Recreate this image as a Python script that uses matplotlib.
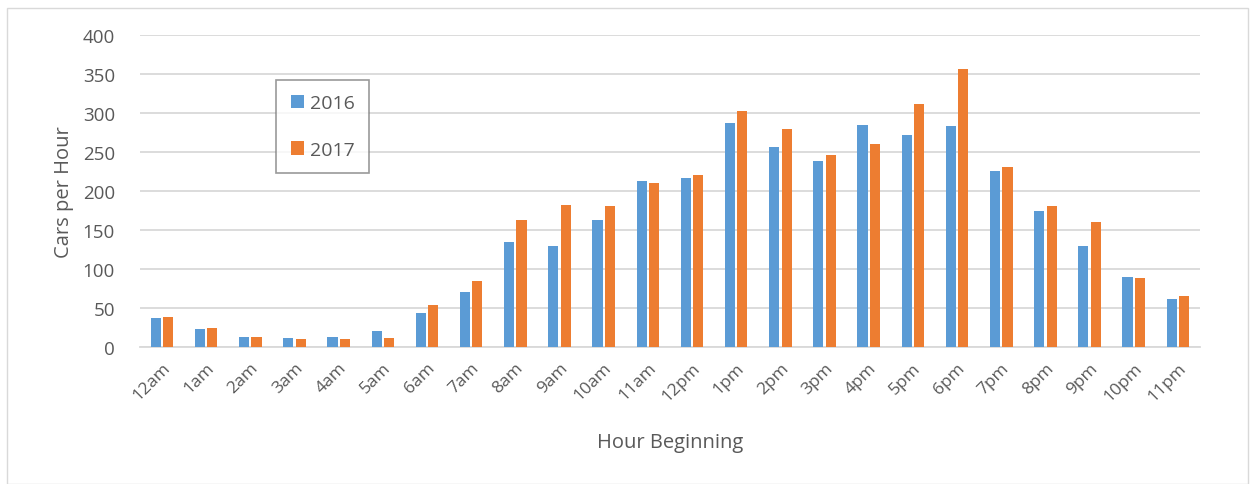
import numpy as np
import matplotlib
matplotlib.use("Agg")
import matplotlib.pyplot as plt
from matplotlib.patches import Rectangle

hours = ['12am', '1am', '2am', '3am', '4am', '5am', '6am', '7am', '8am', '9am',
         '10am', '11am', '12pm', '1pm', '2pm', '3pm', '4pm', '5pm', '6pm', '7pm',
         '8pm', '9pm', '10pm', '11pm']
cars_2016 = [37, 23, 13, 12, 13, 20, 44, 70, 135, 130, 163, 213,
             217, 287, 256, 238, 284, 272, 283, 226, 174, 129, 90, 62]
cars_2017 = [38, 24, 13, 10, 10, 11, 54, 85, 163, 182, 181, 210,
             221, 303, 280, 246, 260, 312, 356, 231, 181, 160, 88, 66]

plt.rcParams['font.family'] = ['Open Sans', 'DejaVu Sans']
txt = '#595959'
grid = '#d9d9d9'

fig = plt.figure(figsize=(12.53, 4.85), dpi=100)
ax = fig.add_axes([0.1117, 0.2825, 0.8460, 0.6433])

x = np.arange(len(hours))
w = 0.23
ax.bar(x - 0.14, cars_2016, w, color='#5B9BD5', label='2016', zorder=3)
ax.bar(x + 0.14, cars_2017, w, color='#ED7D31', label='2017', zorder=3)

ax.set_xlim(-0.5, len(hours) - 0.5)
ax.set_ylim(0, 400)
ax.set_yticks(range(0, 401, 50))
ax.yaxis.grid(True, color=grid, linewidth=1.3, zorder=0)
ax.set_axisbelow(True)
for s in ['top', 'right', 'left']:
    ax.spines[s].set_visible(False)
ax.spines['bottom'].set_color(grid)
ax.spines['bottom'].set_linewidth(1.3)
ax.tick_params(length=0, colors=txt)
ax.tick_params(axis='y', labelsize=13.5, pad=18)
ax.set_xticks(x)
ax.set_xticklabels(hours, rotation=45, ha='right', rotation_mode='anchor', fontsize=12.5)
ax.tick_params(axis='x', pad=9)

ax.set_ylabel('Cars per Hour', fontsize=14.5, color=txt, labelpad=6)
ax.set_xlabel('Hour Beginning', fontsize=14.5, color=txt, labelpad=20)

leg = ax.legend(loc='upper left', bbox_to_anchor=(0.1283, 0.856), borderaxespad=0,
                fontsize=14, frameon=True, fancybox=False, edgecolor='#808080',
                handlelength=0.7, handleheight=0.7, handletextpad=0.3,
                labelspacing=1.45, borderpad=0.75, labelcolor=txt)
leg.get_frame().set_linewidth(1.2)

fig.patches.append(Rectangle((7 / 1253, 0.0), 1241 / 1253, 1 - 9 / 485,
                             transform=fig.transFigure, fill=False,
                             edgecolor='#d9d9d9', linewidth=1))

fig.savefig('out.png', dpi=100)
